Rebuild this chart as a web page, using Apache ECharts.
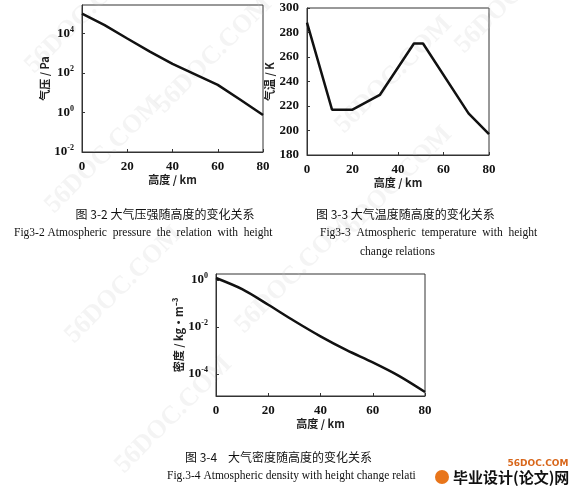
<!DOCTYPE html>
<html><head><meta charset="utf-8">
<script src="https://cdn.jsdelivr.net/npm/echarts@6/dist/echarts.min.js"></script>
<style>html,body{margin:0;background:#fff}#c{width:586px;height:491px}</style>
</head><body><div id="c"></div>
<script>
// 高度 km
var hP = [0, 10, 20, 30, 40, 50, 60, 70, 80];
var pressure = [101325, 26500, 5529, 1197, 287, 85, 25, 4.4, 0.75];
var hT = [0, 11, 20, 32, 47, 51, 71, 80];
var temperature = [288, 217, 217, 229, 271, 271, 214, 197];
var hD = [0, 10, 20, 30, 40, 50, 60, 70, 80];
var density = [1.225, 0.41, 0.089, 0.018, 0.004, 0.00103, 0.00031, 0.000083, 0.000017];

function lg(v) { return Math.log(v) / Math.LN10; }
function pairs(xs, ys, f) { return xs.map(function (x, i) { return [x, f ? f(ys[i]) : ys[i]]; }); }

var FONT = 'Liberation Serif';
var lab = {color: '#111', fontFamily: FONT, fontSize: 13, fontWeight: 'bold'};
var powLab = {
  color: '#111', fontFamily: FONT, fontSize: 13, fontWeight: 'bold',
  formatter: function (v) { return '10{s|' + Math.round(v) + '}'; },
  rich: {s: {fontSize: 8, verticalAlign: 'top', padding: [0, 0, 8, 0], fontFamily: FONT}}
};
function xAx(gi) {
  return {gridIndex: gi, type: 'value', min: 0, max: 80, interval: 20,
    name: '高度 / km', nameLocation: 'middle', nameGap: 20,
    nameTextStyle: {fontFamily: 'Noto Sans CJK SC', fontSize: 11, fontWeight: 'bold', color: '#222'},
    axisLine: {onZero: false, lineStyle: {color: '#333'}}, axisTick: {inside: true, length: 3}, splitLine: {show: false},
    axisLabel: lab};
}
function yName(n) {
  return {name: n, nameLocation: 'middle', nameGap: 30,
    nameTextStyle: {fontFamily: 'Noto Sans CJK SC', fontSize: 11, fontWeight: 'bold', color: '#222'}};
}
var line = {type: 'line', showSymbol: false, lineStyle: {color: '#111', width: 2.5}, itemStyle: {color: '#111'}};

var chart = echarts.init(document.getElementById('c'));
var wm = [];
[[20, 60], [150, 100], [330, 120], [450, 40], [230, 320], [60, 330], [110, 460], [330, 230], [40, 200]].forEach(function (p) {
  wm.push({type: 'text', x: p[0], y: p[1], rotation: Math.PI / 4, z: 0,
    style: {text: '56DOC.COM', fill: 'rgba(200,200,200,0.2)', font: 'bold 26px Liberation Serif'}});
});
function cap(x, y, t, sz, fam, align) {
  return {type: 'text', x: x, y: y, style: {text: t, fill: '#111', font: sz + 'px ' + fam, textAlign: align || 'left', textVerticalAlign: 'middle'}};
}
chart.setOption({
  animation: false,
  grid: [
    {left: 82, top: 5, width: 181, height: 147, show: true, borderColor: '#333', borderWidth: 1},
    {left: 307, top: 8, width: 182, height: 147, show: true, borderColor: '#333', borderWidth: 1},
    {left: 216, top: 274, width: 209, height: 122, show: true, borderColor: '#333', borderWidth: 1}
  ],
  xAxis: [xAx(0), xAx(1), xAx(2)],
  yAxis: [
    Object.assign({gridIndex: 0, type: 'value', min: -2, max: 5.44, interval: 2,
      axisLine: {lineStyle: {color: '#333'}}, axisTick: {inside: true, length: 3}, splitLine: {show: false},
      axisLabel: Object.assign({showMaxLabel: false}, powLab)}, yName('气压 / Pa')),
    Object.assign({gridIndex: 1, type: 'value', min: 180, max: 300, interval: 20,
      axisLine: {lineStyle: {color: '#333'}}, axisTick: {inside: true, length: 3}, splitLine: {show: false},
      axisLabel: lab}, yName('气温 / K')),
    Object.assign({gridIndex: 2, type: 'value', min: -4.94, max: 0.26, position: 'left',
      axisLine: {onZero: false, lineStyle: {color: '#333'}}, axisTick: {inside: true, length: 3, customValues: [0, -2, -4]},
      splitLine: {show: false},
      axisLabel: Object.assign({customValues: [0, -2, -4]}, powLab)}, yName('密度 / kg·m⁻³'))
  ],
  series: [
    Object.assign({xAxisIndex: 0, yAxisIndex: 0, data: pairs(hP, pressure, lg)}, line),
    Object.assign({xAxisIndex: 1, yAxisIndex: 1, data: pairs(hT, temperature)}, line),
    Object.assign({xAxisIndex: 2, yAxisIndex: 2, data: pairs(hD, density, lg), smooth: 0.3}, line)
  ],
  graphic: wm.concat([
    cap(165, 214, '图 3-2 大气压强随高度的变化关系', 12, 'Noto Sans CJK SC', 'center'),
    cap(14, 233, 'Fig3-2 Atmospheric  pressure  the  relation  with  height', 11.5, 'Liberation Serif'),
    cap(316, 214, '图 3-3 大气温度随高度的变化关系', 12, 'Noto Sans CJK SC'),
    cap(320, 233, 'Fig3-3  Atmospheric  temperature  with  height', 11.5, 'Liberation Serif'),
    cap(360, 252, 'change relations', 11.5, 'Liberation Serif'),
    cap(185, 457, '图 3-4    大气密度随高度的变化关系', 12, 'Noto Sans CJK SC'),
    cap(167, 476, 'Fig.3-4 Atmospheric density with height change relati', 11.5, 'Liberation Serif'),
    {type: 'circle', shape: {cx: 442, cy: 477, r: 7}, style: {fill: '#e8751a'}},
    {type: 'text', x: 538, y: 464, style: {text: '56DOC.COM', fill: '#d8661a', font: 'bold 9px DejaVu Sans', textAlign: 'center', textVerticalAlign: 'middle'}},
    {type: 'text', x: 453, y: 477, style: {text: '毕业设计(论文)网', fill: '#111', font: 'bold 15px Noto Sans CJK SC', textVerticalAlign: 'middle'}}
  ])
});
</script></body></html>
